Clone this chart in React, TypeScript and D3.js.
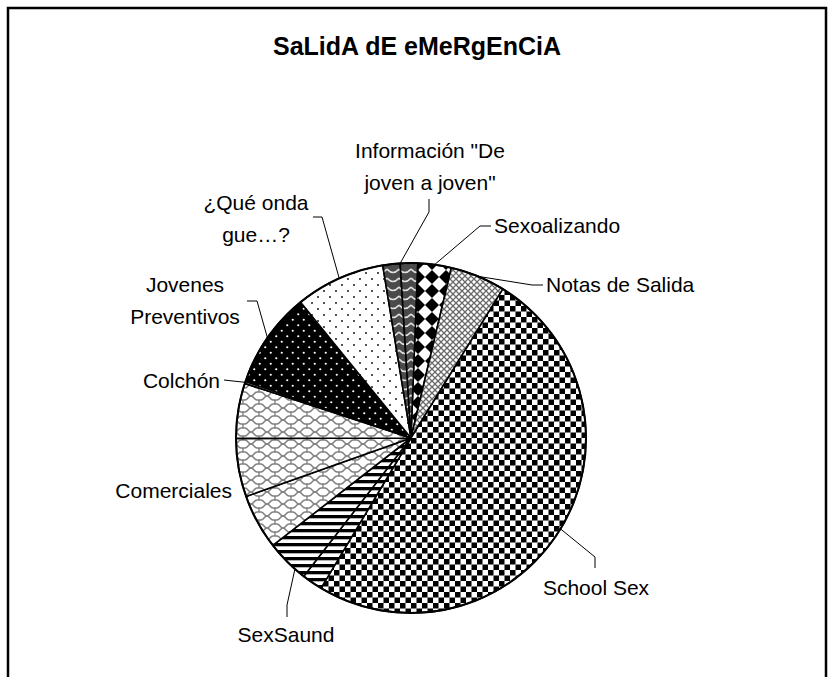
import React from "react";
import * as d3 from "d3";

// slices in drawing order, clockwise from the top
const categories = [
  "Sexoalizando",
  "Notas de Salida",
  "School Sex",
  "SexSaund",
  "SexSaund",
  "Comerciales",
  "Comerciales",
  "Comerciales",
  "Colchón",
  "Jovenes Preventivos",
  "¿Qué onda gue…?",
  "Información",
  "Información",
];
const values = [3.1, 5.1, 49.9, 1.9, 4.0, 5.1, 5.4, 5.1, 0.2, 8.9, 8.3, 1.6, 1.6];

const labelText: Record<string, string[]> = {
  "Información": ["Información \"De", "joven a joven\""],
  Sexoalizando: ["Sexoalizando"],
  "Notas de Salida": ["Notas de Salida"],
  "School Sex": ["School Sex"],
  SexSaund: ["SexSaund"],
  Comerciales: ["Comerciales"],
  "Colchón": ["Colchón"],
  "Jovenes Preventivos": ["Jovenes", "Preventivos"],
  "¿Qué onda gue…?": ["¿Qué onda", "gue…?"],
};

const W = 831;
const H = 677;
const cx = 411;
const cy = 438;
const R = 175;
const startDeg = 2.2;
const fontSize = 21;
const lineH = 32;

// label layout: text position + leader line (elbow, end); start is on the arc
const layout: Record<string, any> = {
  "Información": { x: 430, y: 150, anchor: "middle", leader: [[429, 212], [429, 199]] },
  Sexoalizando: { x: 494, y: 225, anchor: "start", leader: [[480, 226], [491, 226]] },
  "Notas de Salida": { x: 546, y: 284, anchor: "start", leader: [[532, 285], [543, 285]] },
  "School Sex": { x: 596, y: 587, anchor: "middle", leader: [[595, 557], [595, 568]] },
  SexSaund: { x: 286, y: 634, anchor: "middle", leader: [[287, 605], [287, 617]] },
  Comerciales: { x: 232, y: 490, anchor: "end", leader: null },
  "Colchón": { x: 220, y: 380, anchor: "end", leader: [[224, 380]] },
  "Jovenes Preventivos": { x: 185, y: 284, anchor: "middle", leader: [[257, 301], [247, 301]] },
  "¿Qué onda gue…?": { x: 256, y: 202, anchor: "middle", leader: [[322, 217], [313, 217]] },
};

const fills: Record<string, string> = {
  Sexoalizando: "url(#pDiamond)",
  "Notas de Salida": "url(#pHatch)",
  "School Sex": "url(#pChecker)",
  SexSaund: "url(#pStripes)",
  Comerciales: "url(#pShingle)",
  "Colchón": "#999999",
  "Jovenes Preventivos": "url(#pDarkDots)",
  "¿Qué onda gue…?": "url(#pDots)",
  "Información": "url(#pWave)",
};

export default function App() {
  const toRad = (d: number) => (d * Math.PI) / 180;
  const pie = d3
    .pie<number>()
    .sort(null)
    .value((d) => d)
    .startAngle(toRad(startDeg))
    .endAngle(toRad(startDeg) + Math.PI * 2);
  const arcs = pie(values);
  const arc = d3.arc<d3.PieArcDatum<number>>().innerRadius(0).outerRadius(R);

  // group mid-angle per category
  const groups = d3.groups(
    arcs.map((a, i) => ({ a, cat: categories[i] })),
    (d) => d.cat
  );
  const mids = new Map<string, number>();
  groups.forEach(([cat, items]) => {
    const s = d3.min(items, (d) => d.a.startAngle)!;
    const e = d3.max(items, (d) => d.a.endAngle)!;
    mids.set(cat, (s + e) / 2);
  });

  const font = "'Liberation Sans', Arial, sans-serif";

  return (
    <svg
      width={W}
      height={H}
      style={{ position: "absolute", left: 0, top: 0, background: "#fff" }}
    >
      <defs>
        <pattern id="pChecker" width="11" height="11" patternUnits="userSpaceOnUse">
          <rect width="11" height="11" fill="#fff" />
          <rect x="0" y="0" width="5.5" height="5.5" fill="#000" />
          <rect x="5.5" y="5.5" width="5.5" height="5.5" fill="#000" />
        </pattern>
        <pattern id="pDiamond" width="14" height="14" patternUnits="userSpaceOnUse">
          <rect width="14" height="14" fill="#fff" />
          <polygon points="7,0 14,7 7,14 0,7" fill="#000" />
        </pattern>
        <pattern id="pHatch" width="6" height="6" patternUnits="userSpaceOnUse">
          <rect width="6" height="6" fill="#fff" />
          <path d="M0,0 L6,6 M6,0 L0,6" stroke="#6a6a6a" strokeWidth="1.3" />
        </pattern>
        <pattern id="pStripes" width="8" height="7" patternUnits="userSpaceOnUse">
          <rect width="8" height="7" fill="#fff" />
          <rect y="0" width="8" height="3.3" fill="#000" />
        </pattern>
        <pattern id="pShingle" width="16" height="12" patternUnits="userSpaceOnUse">
          <rect width="16" height="12" fill="#fff" />
          <path
            d="M0,6 C3,6 3,2 6,2 L10,2 C13,2 13,6 16,6 M8,2 L8,0 M0,6 C3,6 3,10 6,10 L10,10 C13,10 13,6 16,6 M8,10 L8,12"
            fill="none"
            stroke="#808080"
            strokeWidth="1.4"
          />
        </pattern>
        <pattern id="pDarkDots" width="11" height="11" patternUnits="userSpaceOnUse">
          <rect width="11" height="11" fill="#000" />
          <circle cx="2.75" cy="2.75" r="1.1" fill="#fff" />
          <circle cx="8.25" cy="8.25" r="1.1" fill="#fff" />
        </pattern>
        <pattern id="pDots" width="12" height="12" patternUnits="userSpaceOnUse">
          <rect width="12" height="12" fill="#fff" />
          <circle cx="3" cy="3" r="0.9" fill="#000" />
          <circle cx="9" cy="9" r="0.9" fill="#000" />
        </pattern>
        <pattern id="pWave" width="12" height="9" patternUnits="userSpaceOnUse">
          <rect width="12" height="9" fill="#4a4a4a" />
          <path d="M0,2 Q6,9 12,2" fill="none" stroke="#e0e0e0" strokeWidth="1.6" />
        </pattern>
      </defs>

      {/* chart frame */}
      <rect x={8} y={8} width={818} height={720} fill="none" stroke="#000" strokeWidth={2.5} />

      <text
        x={417}
        y={46}
        textAnchor="middle"
        dominantBaseline="central"
        fontFamily={font}
        fontWeight="bold"
        fontSize={26}
        textLength={288}
        lengthAdjust="spacingAndGlyphs"
      >
        SaLidA dE eMeRgEnCiA
      </text>

      <g transform={`translate(${cx},${cy})`}>
        {arcs.map((a, i) => (
          <path
            key={i}
            d={arc(a) || ""}
            fill={fills[categories[i]]}
            stroke="#000"
            strokeWidth={1.6}
            strokeLinejoin="round"
          />
        ))}
        <circle r={R} fill="none" stroke="#000" strokeWidth={2} />
      </g>

      {Array.from(mids.entries()).map(([cat, mid]) => {
        const L = layout[cat];
        const lines = labelText[cat];
        const sx = cx + R * Math.sin(mid);
        const sy = cy - R * Math.cos(mid);
        const pts: [number, number][] = L.leader ? [[sx, sy], ...L.leader] : [];
        return (
          <g key={cat}>
            {pts.length > 0 && (
              <path d={d3.line()(pts) || ""} fill="none" stroke="#000" strokeWidth={1} />
            )}
            {lines.map((t, j) => (
              <text
                key={j}
                x={L.x}
                y={L.y + j * lineH}
                textAnchor={L.anchor}
                dominantBaseline="central"
                fontFamily={font}
                fontSize={fontSize}
              >
                {t}
              </text>
            ))}
          </g>
        );
      })}
    </svg>
  );
}
